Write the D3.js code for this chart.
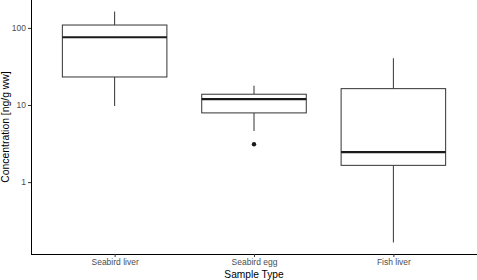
<!DOCTYPE html>
<html>
<head>
<meta charset="utf-8">
<style>
  body { margin: 0; background: #fff; }
  svg { display: block; font-family: "Liberation Sans", Arial, sans-serif; }
</style>
</head>
<body>
<svg id="chart"></svg>
<script src="https://cdn.jsdelivr.net/npm/d3@7"></script>
<script>
var categories = ["Seabird liver", "Seabird egg", "Fish liver"];
var lowerWhisker = [9.7, 4.6, 0.165];
var q1 = [23.1, 7.9, 1.65];
var median = [75.7, 11.9, 2.45];
var q3 = [109, 13.8, 16.3];
var upperWhisker = [163, 17.8, 40.4];
var outliers = [[], [3.1], []];
var yTicks = [1, 10, 100];

var width = 477, height = 280;
var margin = {top: 0, right: 0, bottom: 26, left: 31};

var boxes = categories.map(function (c, i) {
  return {cat: c, lo: lowerWhisker[i], q1: q1[i], med: median[i], q3: q3[i], hi: upperWhisker[i], out: outliers[i]};
});

var svg = d3.select("#chart").attr("width", width).attr("height", height);

// ggplot style expansion: 5% in log space
var allVals = d3.merge([lowerWhisker, upperWhisker, d3.merge(outliers)]);
var lmin = Math.log10(d3.min(allVals)), lmax = Math.log10(d3.max(allVals));
var pad = (lmax - lmin) * 0.05;
var y = d3.scaleLog()
  .domain([Math.pow(10, lmin - pad), Math.pow(10, lmax + pad)])
  .range([height - margin.bottom, margin.top]);

// discrete axis with 0.6 unit expansion each side
var n = categories.length;
var unit = (width - margin.left - margin.right) / (n - 1 + 1.2);
var x = d3.scalePoint().domain(categories)
  .range([margin.left + 0.6 * unit, width - margin.right - 0.6 * unit]);
var boxW = 0.75 * unit;

var g = svg.append("g");

var box = g.selectAll("g.box").data(boxes).enter().append("g").attr("class", "box");

box.append("line")
  .attr("x1", d => x(d.cat)).attr("x2", d => x(d.cat))
  .attr("y1", d => y(d.hi)).attr("y2", d => y(d.q3))
  .attr("stroke", "#333").attr("stroke-width", 1);
box.append("line")
  .attr("x1", d => x(d.cat)).attr("x2", d => x(d.cat))
  .attr("y1", d => y(d.q1)).attr("y2", d => y(d.lo))
  .attr("stroke", "#333").attr("stroke-width", 1);
box.append("rect")
  .attr("x", d => x(d.cat) - boxW / 2).attr("width", boxW)
  .attr("y", d => y(d.q3)).attr("height", d => y(d.q1) - y(d.q3))
  .attr("fill", "#fff").attr("stroke", "#333").attr("stroke-width", 1);
box.append("line")
  .attr("x1", d => x(d.cat) - boxW / 2).attr("x2", d => x(d.cat) + boxW / 2)
  .attr("y1", d => y(d.med)).attr("y2", d => y(d.med))
  .attr("stroke", "#1a1a1a").attr("stroke-width", 2.2);
box.selectAll("circle").data(d => d.out.map(v => ({cat: d.cat, v: v}))).enter()
  .append("circle")
  .attr("cx", d => x(d.cat)).attr("cy", d => y(d.v)).attr("r", 2.2)
  .attr("fill", "#1a1a1a");

// axes
var yAxis = svg.append("g")
  .attr("transform", "translate(" + margin.left + ",0)")
  .call(d3.axisLeft(y).tickValues(yTicks).tickFormat(d3.format("d")).tickSize(3).tickPadding(2));
var xAxis = svg.append("g")
  .attr("transform", "translate(0," + (height - margin.bottom) + ")")
  .call(d3.axisBottom(x).tickSize(3).tickPadding(2));

[yAxis, xAxis].forEach(function (a) {
  a.select(".domain").attr("stroke", "#000").attr("stroke-width", 1);
  a.selectAll(".tick line").attr("stroke", "#333");
  a.selectAll(".tick text").attr("fill", "#4d4d4d").style("font-size", "8.5px")
    .style("font-family", "'Liberation Sans', Arial, sans-serif");
});
// extend the domain lines to the full panel, without outer ticks
yAxis.select(".domain").attr("d", "M0.5," + y.range()[1] + "V" + (y.range()[0] + 0.5));
xAxis.select(".domain").attr("d", "M" + margin.left + ",0.5H" + width);

svg.append("text")
  .attr("x", margin.left + (width - margin.left) / 2).attr("y", 277.5)
  .attr("text-anchor", "middle").style("font-size", "10.2px").attr("fill", "#000")
  .text("Sample Type");
svg.append("text")
  .attr("transform", "translate(9," + ((height - margin.bottom) / 2) + ") rotate(-90)")
  .attr("text-anchor", "middle").style("font-size", "10.4px").attr("fill", "#000")
  .text("Concentration [ng/g ww]");
</script>
</body>
</html>
